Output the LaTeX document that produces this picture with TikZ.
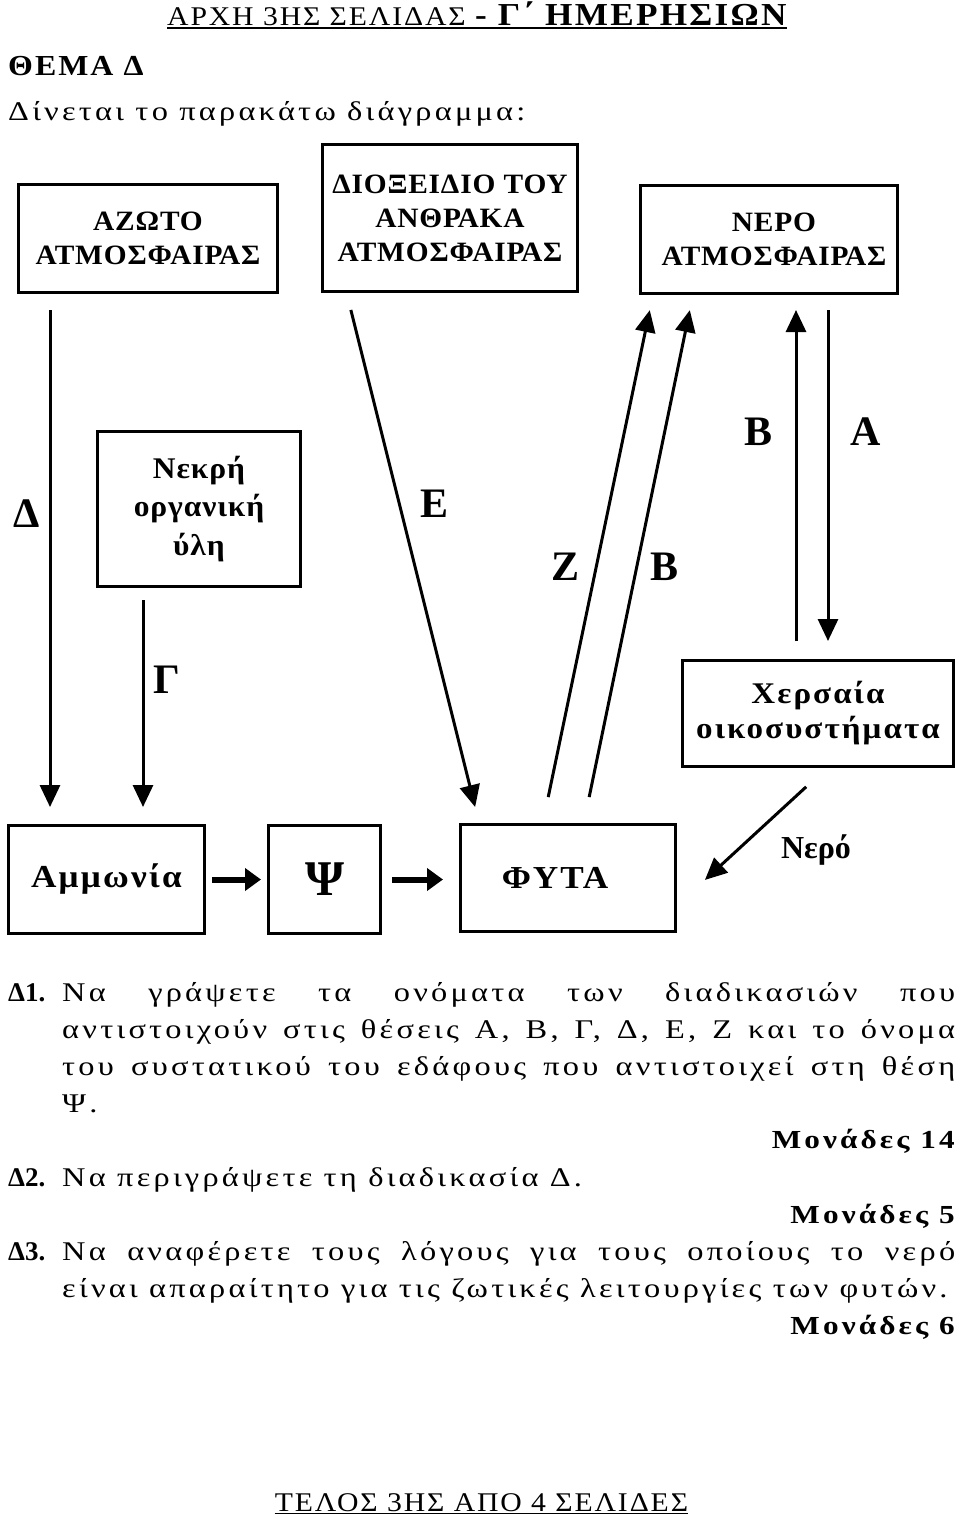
\documentclass[tikz,border=0pt]{standalone}
\usepackage{fontspec}
\setmainfont{Liberation Serif}
\newfontfamily\bodyfont[FakeStretch=1.2,LetterSpace=12]{Liberation Serif}
\newfontfamily\headfont[FakeStretch=1.1,LetterSpace=7]{Liberation Serif}
\newfontfamily\boxfont[FakeStretch=1.05,LetterSpace=3]{Liberation Serif}
\usetikzlibrary{calc,arrows.meta}
\tikzset{
  box/.style={draw=black,line width=3pt,inner sep=0pt,outer sep=0pt,align=center,
    font=\boxfont\bfseries\fontsize{28}{34}\selectfont},
  flow/.style={draw=black,line width=3pt,-{Triangle[width=20pt,length=22pt]}},
  push/.style={draw=black,line width=6pt,-{Triangle[width=22pt,length=16pt]}},
  lab/.style={inner sep=0pt,anchor=base,font=\bfseries\fontsize{42}{42}\selectfont},
}
\tikzset{qnum/.style={inner sep=0pt,anchor=base west,font=\bfseries\fontsize{27}{27}\selectfont}, para/.style={inner sep=0pt,anchor=base west,text width=893pt,align=justify,font=\bodyfont\fontsize{27}{37.3}\selectfont}, pts/.style={inner sep=0pt,anchor=base east,font=\bodyfont\bfseries\fontsize{26}{26}\selectfont}}

\begin{document}
\begin{tikzpicture}[x=1pt,y=-1pt]
\useasboundingbox (0,0) rectangle (960,1519);
\coordinate (colD) at (50,0);
\coordinate (colG) at (143,0);
\coordinate (colB) at (796,0);
\coordinate (colA) at (828,0);
\node[anchor=base west,inner sep=0pt,font=\headfont\fontsize{27}{27}\selectfont] (head) at (167,25.5) {ΑΡΧΗ 3ΗΣ ΣΕΛΙΔΑΣ {\bfseries\fontsize{32}{32}\selectfont - Γ΄ ΗΜΕΡΗΣΙΩΝ}};
\draw[line width=1.5pt] ([yshift=-2.5pt]head.base west) -- ([yshift=-2.5pt]head.base east);
\node[anchor=base west,inner sep=0pt,font=\headfont\bfseries\fontsize{29}{29}\selectfont] (thema) at (8,75) {ΘΕΜΑ Δ};
\node[anchor=base west,inner sep=0pt,font=\bodyfont\fontsize{27}{27}\selectfont] (intro) at (8,120) {Δίνεται το παρακάτω διάγραμμα:};
\node[box,minimum width=259pt,minimum height=108pt] (azoto) at (148,238.5) {ΑΖΩΤΟ\\ΑΤΜΟΣΦΑΙΡΑΣ};
\node[box,minimum width=255.5pt,minimum height=147pt] (dioxide) at (450,218) {ΔΙΟΞΕΙΔΙΟ ΤΟΥ\\ΑΝΘΡΑΚΑ\\ΑΤΜΟΣΦΑΙΡΑΣ};
\node[box,minimum width=257.5pt,minimum height=108pt] (nero) at (769,239.5) {\hspace*{10pt}ΝΕΡΟ\\\hspace*{10pt}ΑΤΜΟΣΦΑΙΡΑΣ};
\node[box,minimum width=203pt,minimum height=155pt,font=\boxfont\bfseries\fontsize{30}{38.5}\selectfont] (nekri) at (199,509) {Νεκρή\\οργανική\\ύλη};
\node[box,minimum width=271.5pt,minimum height=106pt,font=\headfont\bfseries\fontsize{30}{35}\selectfont] (cher) at (818,713.5) {Χερσαία\\οικοσυστήματα};
\node[box,minimum width=196pt,minimum height=108pt,font=\headfont\bfseries\fontsize{32}{32}\selectfont] (amm) at (106.5,879.5) {Αμμωνία};
\node[box,minimum width=112pt,minimum height=108pt,font=\bfseries\fontsize{50}{50}\selectfont] (psi) at (324.5,879.5) {Ψ};
\node[box,minimum width=215pt,minimum height=107pt,font=\headfont\bfseries\fontsize{32}{32}\selectfont] (fyta) at (568,878) {ΦΥΤΑ\hspace*{26pt}};
\draw[flow,shorten <=17.5pt,shorten >=18.5pt] (azoto.south -| colD) -- (amm.north -| colD);
\draw[flow,shorten <=13.5pt,shorten >=18.5pt] (nekri.south -| colG) -- (amm.north -| colG);
\draw[flow,shorten <=19pt,shorten >=18pt] ([xshift=24pt]dioxide.south west) -- ([xshift=19pt]fyta.north west);
\draw[flow,shorten <=28pt,shorten >=17pt] ([xshift=82pt]fyta.north west) -- ([xshift=13pt]nero.south west);
\draw[flow,shorten <=28pt,shorten >=17pt] ([xshift=123pt]fyta.north west) -- ([xshift=53pt]nero.south west);
\draw[flow,shorten <=19.5pt,shorten >=16.5pt] (cher.north -| colB) -- (nero.south -| colB);
\draw[flow,shorten <=16.5pt,shorten >=19.5pt] (nero.south -| colA) -- (cher.north -| colA);
\draw[flow,shorten <=30pt,shorten >=40pt] ([xshift=146pt]cher.south west) -- ([yshift=-29pt]fyta.east);
\draw[push,shorten <=7.5pt,shorten >=7.5pt] (amm) -- (psi);
\draw[push,shorten <=11.5pt,shorten >=17.5pt] (psi.east) -- (psi.east -| fyta.west);
\node[lab] (labD) at (27,527) {Δ};
\node[lab] (labE) at (435,517) {Ε};
\node[lab] (labZ) at (566,580) {Ζ};
\node[lab] (labB) at (665,580) {Β};
\node[lab] (labBup) at (759,445) {Β};
\node[lab] (labA) at (866,445) {Α};
\node[lab] (labG) at (167,693) {Γ};
\node[lab,font=\bfseries\fontsize{32}{32}\selectfont] (labW) at (816,858) {Νερό};
\node[qnum] (q1) at (8,1001) {Δ1.};
\node[para] (p1) at (62,1001) {Να γράψετε τα ονόματα των διαδικασιών που\linebreak αντιστοιχούν στις θέσεις Α, Β, Γ, Δ, Ε, Ζ και το όνομα\linebreak του συστατικού του εδάφους που αντιστοιχεί στη θέση\linebreak Ψ.};
\node[pts] (m1) at (955,1148) {Μονάδες 14};
\node[qnum] (q2) at (8,1186) {Δ2.};
\node[para] (p2) at (62,1186) {Να περιγράψετε τη διαδικασία Δ.};
\node[pts] (m2) at (955,1223) {Μονάδες 5};
\node[qnum] (q3) at (8,1260) {Δ3.};
\node[para] (p3) at (62,1260) {Να αναφέρετε τους λόγους για τους οποίους το νερό\linebreak είναι απαραίτητο για τις ζωτικές λειτουργίες των φυτών.};
\node[pts] (m3) at (955,1334) {Μονάδες 6};
\node[anchor=base,inner sep=0pt,font=\headfont\fontsize{27}{27}\selectfont] (foot) at (481.5,1511) {ΤΕΛΟΣ 3ΗΣ ΑΠΟ 4 ΣΕΛΙΔΕΣ};
\draw[line width=1.5pt] ([yshift=-2.5pt]foot.base west) -- ([yshift=-2.5pt]foot.base east);
\end{tikzpicture}
\end{document}
